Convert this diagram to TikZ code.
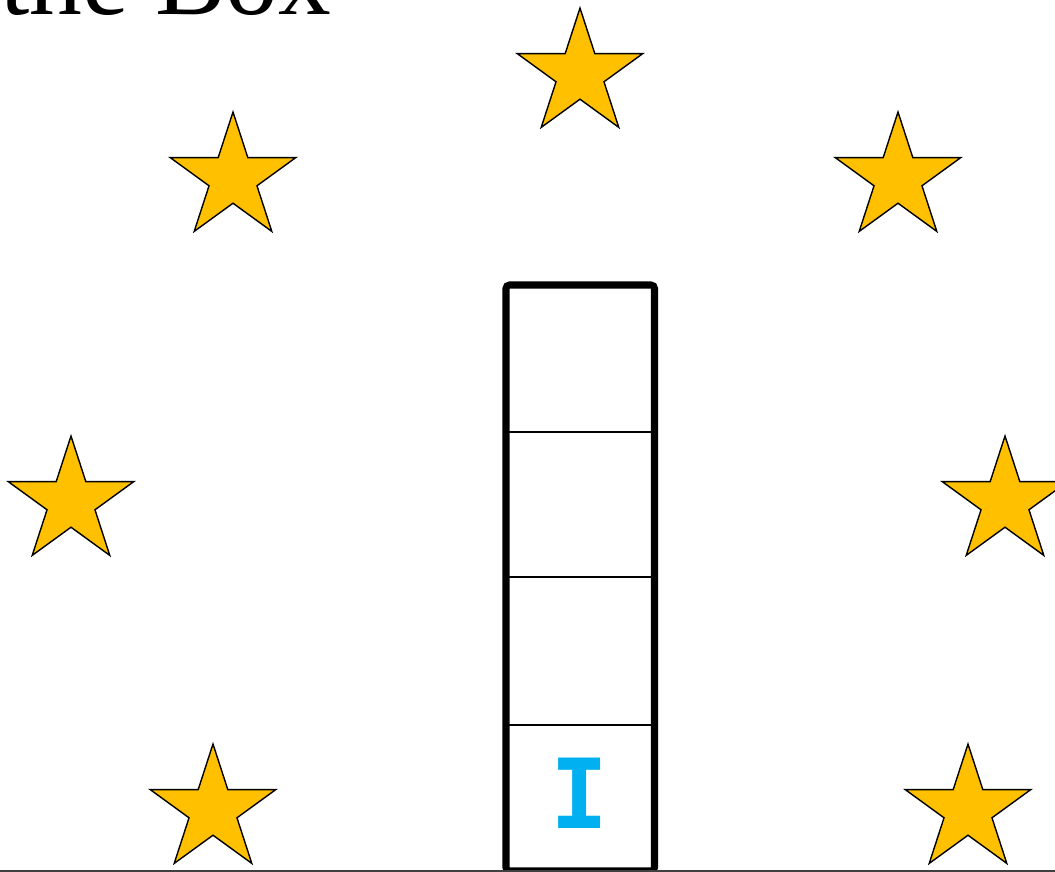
\documentclass[tikz,border=0pt]{standalone}
\usepackage{fontspec}
\setmainfont{Liberation Serif}
\newfontfamily\monofont{DejaVu Sans Mono}
\usetikzlibrary{shapes.geometric}
\definecolor{starGold}{HTML}{FFC000}
\definecolor{letterBlue}{HTML}{00B0F0}
\tikzset{
  goldstar/.style={star, star points=5, star point ratio=2.618, minimum size=2.64cm,
    inner sep=0pt, draw=black, line width=0.8pt, fill=starGold},
  divider/.style={line width=1.1pt},
}
\begin{document}
\begin{tikzpicture}[x=0.02cm, y=-0.02cm]
            \useasboundingbox (0,0) rectangle (1055,872);

            % --- Titulo (cortado) ---
            \node[anchor=base west, inner sep=0pt, font=\fontsize{60}{64}\selectfont] (title) at (0,14) {the Box};

            % --- Estrelas ---
            \node[goldstar] (sTop) at (580,74) {};
            \node[goldstar] (sUpLeft) at (233,178) {};
            \node[goldstar] (sUpRight) at (898,178) {};
            \node[goldstar] (sMidLeft) at (71,502) {};
            \node[goldstar] (sMidRight) at (1005,502) {};
            \node[goldstar] (sLowLeft) at (213,810) {};
            \node[goldstar] (sLowRight) at (968,810) {};

            % --- Caixa ---
            \draw[line width=4pt, rounded corners=2pt] (506,871) -- (506,285) -- (654.5,285) -- (654.5,871) -- cycle;
            \draw[divider] (506,432) -- (654.5,432);
            \draw[divider] (506,577) -- (654.5,577);
            \draw[divider] (506,725) -- (654.5,725);

            % Letra na celula de baixo
            \node[text=letterBlue, font=\monofont\bfseries\fontsize{55}{58}\selectfont, inner sep=0pt] (letterI) at (580,793) {I};

            % Linha do chao
            \draw[line width=0.6pt, black!75] (0,871) -- (1055,871);
\end{tikzpicture}
\end{document}
